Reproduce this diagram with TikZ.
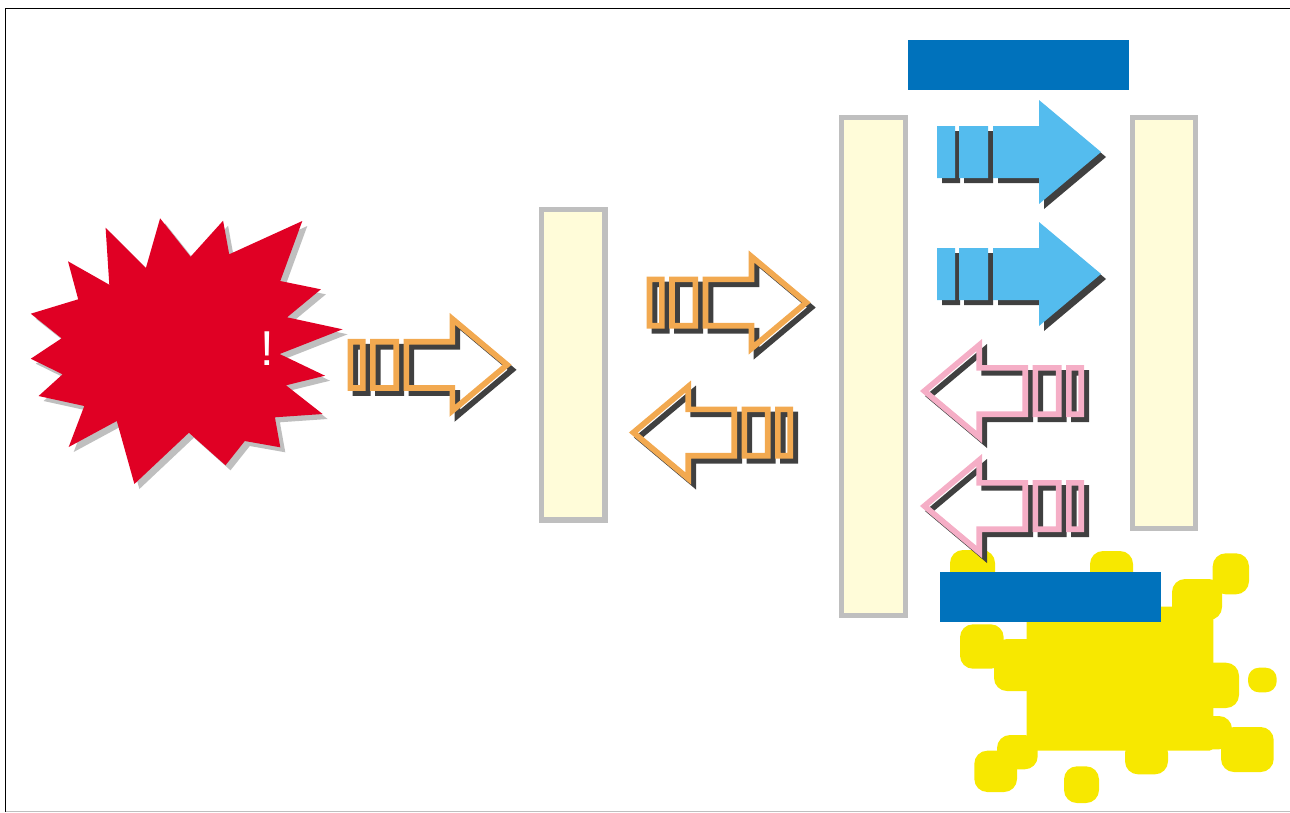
\documentclass[tikz,border=0pt]{standalone}
\usepackage{fontspec}
\setmainfont{Liberation Sans}
\definecolor{burst}{HTML}{E00024}
\definecolor{burstshadow}{HTML}{BFBFBF}
\definecolor{cream}{HTML}{FFFCD9}
\definecolor{barblue}{HTML}{0072BC}
\definecolor{skyblue}{HTML}{54BCEE}
\definecolor{orangeline}{HTML}{F2A950}
\definecolor{pinkline}{HTML}{F5AEC6}
\definecolor{shadowdark}{HTML}{404040}
\definecolor{splat}{HTML}{F7E800}
\tikzset{
  beam/.style={draw=burstshadow,line width=5.5pt,fill=cream},
  bluebar/.style={fill=barblue},
  blob/.style={fill=splat,rounded corners=13pt},
  outlined/.style={line width=5.7pt,miter limit=10,draw=#1},
  frameline/.style={draw=black,line width=0.8pt}
}
\newcommand{\ArrFilled}{(0,-26) rectangle (18,26) (22,-26) rectangle (51,26) (56,-26) -- (102,-26) -- (102,-52) -- (164,0) -- (102,52) -- (102,26) -- (56,26) -- cycle}
\newcommand{\ArrLine}{(2.85,-23.15) rectangle (15.15,23.15) (25.35,-23.15) rectangle (48.65,23.15) (58.85,-23.15) -- (104.85,-23.15) -- (104.85,-45.9) -- (159.6,0) -- (104.85,45.9) -- (104.85,23.15) -- (58.85,23.15) -- cycle}
% #1 x, #2 y, #3 direction, #4 colour
\newcommand{\LineArrow}[4]{%
  \begin{scope}[shift={(#1+5,#2+5)},xscale=#3]\draw[outlined=shadowdark] \ArrLine;\end{scope}
  \begin{scope}[shift={(#1,#2)},xscale=#3]\draw[outlined=#4] \ArrLine;\end{scope}}
\newcommand{\SolidArrow}[2]{%
  \begin{scope}[shift={(#1+5,#2+5)}]\fill[shadowdark] \ArrFilled;\end{scope}
  \begin{scope}[shift={(#1,#2)}]\fill[skyblue] \ArrFilled;\end{scope}}
\newcommand{\BurstPath}{(160.1,218.3) -- (190.6,256.7) -- (223.1,220.7) -- (229.2,254.3) -- (302.3,221) -- (280.3,281) -- (320.9,289.3) -- (287.1,317.3) -- (342.6,329.3) -- (279.6,354) -- (325,375.7) -- (286,385.3) -- (322.6,414) -- (274.9,417.3) -- (280.3,447.3) -- (244.8,441) -- (225.5,465.3) -- (188.9,432.7) -- (134.4,484) -- (116.8,421) -- (68.7,447) -- (84.3,406) -- (38.6,396) -- (62.6,374.3) -- (30.8,358.7) -- (61.6,338.3) -- (30.8,313.7) -- (78.2,299.3) -- (68,261.3) -- (109.3,284.7) -- (105.6,227.7) -- (145.9,268) -- cycle}
\begin{document}
\begin{tikzpicture}[x=1pt,y=-1pt]
\useasboundingbox (0,0) rectangle (1290,812);
% frame
\draw[frameline] (1290,8.5) -- (5.5,8.5) -- (5.5,812);
\draw[draw=burstshadow,line width=1pt] (5.5,811.5) -- (1290,811.5);
% burst
\begin{scope}[shift={(5,5)}]\fill[burstshadow] \BurstPath;\end{scope}
\fill[burst] \BurstPath;
\node[text=white,font=\fontsize{49}{49}\selectfont,inner sep=0pt] (bang) at (267.3,349) {!};
% beams
\draw[beam] (541.5,209.5) rectangle (605,520);
\draw[beam] (841.5,117.5) rectangle (905.5,615.5);
\draw[beam] (1132.5,117.5) rectangle (1195.5,528.5);
% splat
\fill[splat,rounded corners=4pt] (1026.7,606.7) rectangle (1213.3,750.7);
\foreach \a/\b/\c/\d in {950/550/995/590,1090/551/1133/590,1212.7/553.3/1249/594.3,1172/579/1222/620,960/624.3/1003.7/668.7,994/639/1040/691,1190/662.7/1239/708,1190/716/1232/749.3,1221/727/1273.7/772,1125/740/1168/774.3,1064/766.3/1099/803,997/735/1037.7/769.3,974.3/750.7/1017/792}
  \fill[blob] (\a,\b) rectangle (\c,\d);
\fill[blob,rounded corners=11pt] (1248,667.7) rectangle (1276.7,692.3);
% arrows
\LineArrow{347.5}{364.8}{1}{orangeline}
\LineArrow{646.7}{302.5}{1}{orangeline}
\LineArrow{793}{432.5}{-1}{orangeline}
\SolidArrow{937}{152}
\SolidArrow{937}{274}
\LineArrow{1084}{391}{-1}{pinkline}
\LineArrow{1084}{506}{-1}{pinkline}
% blue bars
\fill[bluebar] (908,40) rectangle (1129,90);
\fill[bluebar] (940,572) rectangle (1161,622);
\end{tikzpicture}
\end{document}
